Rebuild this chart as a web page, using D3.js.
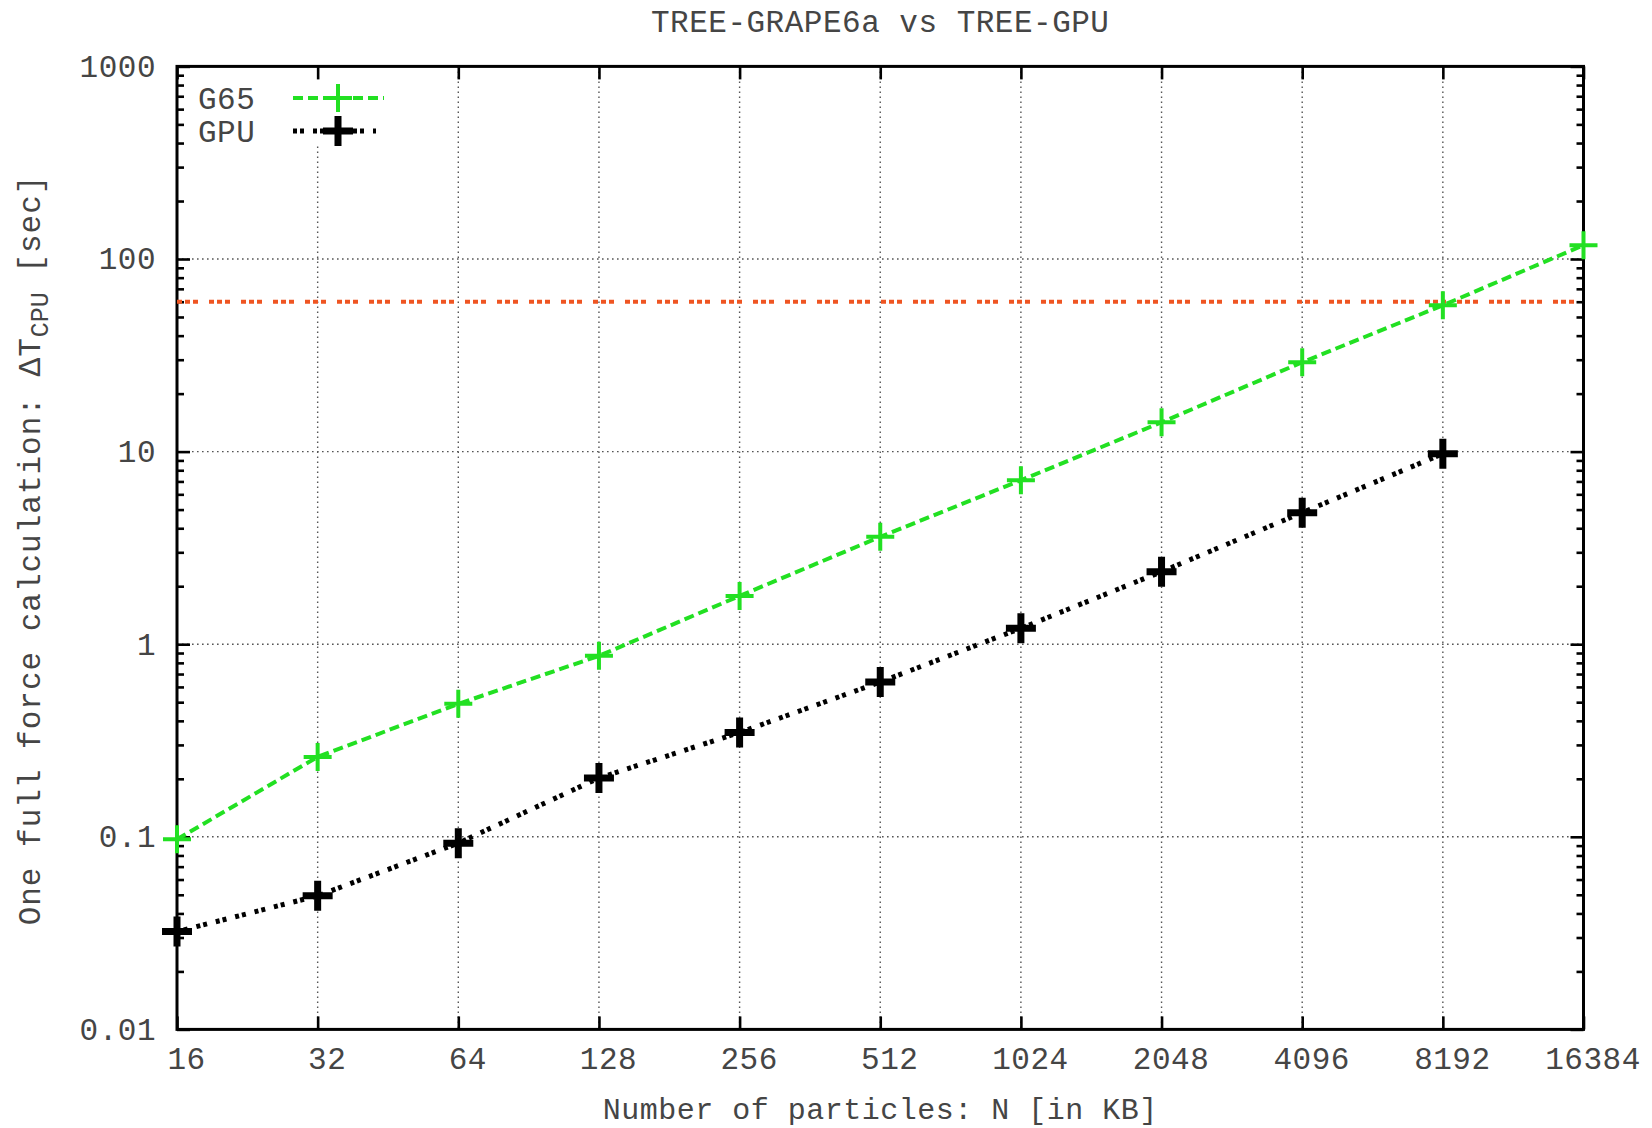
<!DOCTYPE html>
<html>
<head>
<meta charset="utf-8">
<script src="https://cdn.jsdelivr.net/npm/d3@7"></script>
<style>
  body { margin: 0; background: #fff; }
  text { font-family: "Liberation Mono", "Courier New", monospace; fill: #454545; letter-spacing: 0.5px; }
</style>
</head>
<body>
<svg id="chart" width="1652" height="1128"></svg>
<script>
// Particle counts (in KB) on the x axis
const particlesKB = [16, 32, 64, 128, 256, 512, 1024, 2048, 4096, 8192, 16384];
const xTickLabels = ["16", "32", "64", "128", "256", "512", "1024", "2048", "4096", "8192", "16384"];

// Time for one full force calculation [sec]
const g65Seconds = [0.097, 0.26, 0.49, 0.87, 1.78, 3.61, 7.1, 14.2, 29.1, 57.5, 118];
const gpuParticlesKB = [16, 32, 64, 128, 256, 512, 1024, 2048, 4096, 8192];
const gpuSeconds = [0.0322, 0.0494, 0.0927, 0.202, 0.348, 0.636, 1.21, 2.38, 4.82, 9.75];

// Horizontal reference level [sec]
const cpuLimitSeconds = 60;

const yMajorTicks = [0.01, 0.1, 1, 10, 100, 1000];
const yTickLabels = ["0.01", "0.1", "1", "10", "100", "1000"];
const seriesNames = ["G65", "GPU"];

const W = 1652, H = 1128;
const margin = { left: 177, right: 68.5, top: 66.4, bottom: 98.6 };
const x0 = margin.left, x1 = W - margin.right, y0 = margin.top, y1 = H - margin.bottom;

const svg = d3.select("#chart");
const x = d3.scaleLog().base(2).domain([16, 16384]).range([x0, x1]);
const y = d3.scaleLog().domain([0.01, 1000]).range([y1, y0]);

const yMinorTicks = [];
yMajorTicks.slice(0, -1).forEach(d => { for (let m = 2; m <= 9; m++) yMinorTicks.push(d * m); });

// Grid
const grid = svg.append("g").attr("stroke", "#555").attr("stroke-width", 1.4).attr("stroke-dasharray", "1.6,3.4");
grid.selectAll("line.vx").data(particlesKB.slice(1, -1)).join("line")
  .attr("x1", d => x(d)).attr("x2", d => x(d)).attr("y1", y0).attr("y2", y1);
grid.selectAll("line.hy").data(yMajorTicks.slice(1, -1)).join("line")
  .attr("x1", x0).attr("x2", x1).attr("y1", d => y(d)).attr("y2", d => y(d));

// Legend background
svg.append("rect").attr("x", x0 + 2).attr("y", y0 + 2).attr("width", 215).attr("height", 76).attr("fill", "#fff");

// Axes with inward ticks
const fmtX = d => xTickLabels[particlesKB.indexOf(d)];
const fmtY = d => yTickLabels[yMajorTicks.indexOf(d)];

function styleAxis(g) {
  g.select(".domain").remove();
  g.selectAll(".tick line").attr("stroke", "#000").attr("stroke-width", 2.6);
  g.selectAll(".tick text").style("font-size", "31px").attr("fill", "#454545");
}

svg.append("g").attr("transform", `translate(0,${y1})`)
  .call(d3.axisBottom(x).tickValues(particlesKB).tickFormat(fmtX).tickSize(-13).tickPadding(18))
  .call(styleAxis)
  .call(g => g.selectAll(".tick text").attr("dx", 9));
svg.append("g").attr("transform", `translate(0,${y0})`)
  .call(d3.axisTop(x).tickValues(particlesKB).tickFormat("").tickSize(-13))
  .call(styleAxis);
svg.append("g").attr("transform", `translate(${x0},0)`)
  .call(d3.axisLeft(y).tickValues(yMajorTicks).tickFormat(fmtY).tickSize(-13).tickPadding(21))
  .call(styleAxis);
svg.append("g").attr("transform", `translate(${x0},0)`)
  .call(d3.axisLeft(y).tickValues(yMinorTicks).tickFormat("").tickSize(-7))
  .call(styleAxis);
svg.append("g").attr("transform", `translate(${x1},0)`)
  .call(d3.axisRight(y).tickValues(yMajorTicks).tickFormat("").tickSize(-13))
  .call(styleAxis);
svg.append("g").attr("transform", `translate(${x1},0)`)
  .call(d3.axisRight(y).tickValues(yMinorTicks).tickFormat("").tickSize(-7))
  .call(styleAxis);

// Frame
svg.append("rect").attr("x", x0).attr("y", y0).attr("width", x1 - x0).attr("height", y1 - y0)
  .attr("fill", "none").attr("stroke", "#000").attr("stroke-width", 3);

// Reference level
svg.append("line")
  .attr("x1", x0).attr("x2", x1).attr("y1", y(cpuLimitSeconds)).attr("y2", y(cpuLimitSeconds))
  .attr("stroke", "#ef5522").attr("stroke-width", 3.8).attr("stroke-dasharray", "5,3,5,3,5,11");

// Series
const green = "#22e022";
const plusPath = s => `M${-s},0H${s}M0,${-s}V${s}`;

const g65 = particlesKB.map((n, i) => [n, g65Seconds[i]]);
const gpu = gpuParticlesKB.map((n, i) => [n, gpuSeconds[i]]);
const line = d3.line().x(d => x(d[0])).y(d => y(d[1]));

svg.append("path").datum(g65).attr("d", line).attr("fill", "none")
  .attr("stroke", green).attr("stroke-width", 4).attr("stroke-dasharray", "10,5");
svg.append("path").datum(gpu).attr("d", line).attr("fill", "none")
  .attr("stroke", "#000").attr("stroke-width", 5).attr("stroke-dasharray", "4,3,4,9");

svg.append("g").selectAll("path").data(g65).join("path")
  .attr("transform", d => `translate(${x(d[0])},${y(d[1])})`)
  .attr("d", plusPath(14)).attr("stroke", green).attr("stroke-width", 4);
svg.append("g").selectAll("path").data(gpu).join("path")
  .attr("transform", d => `translate(${x(d[0])},${y(d[1])})`)
  .attr("d", plusPath(15)).attr("stroke", "#000").attr("stroke-width", 7);

// Legend
const legend = svg.append("g");
const legendRows = [
  { name: seriesNames[0], cy: 98, color: green, width: 4, dash: "10,5", x2: 384, size: 14, mw: 4 },
  { name: seriesNames[1], cy: 131, color: "#000", width: 5, dash: "4,3,4,9", x2: 376, size: 15, mw: 7 }
];
legendRows.forEach(r => {
  legend.append("text").attr("x", 198).attr("y", r.cy).attr("dy", "0.35em")
    .style("font-size", "31px").text(r.name);
  legend.append("line").attr("x1", 293).attr("x2", r.x2).attr("y1", r.cy).attr("y2", r.cy)
    .attr("stroke", r.color).attr("stroke-width", r.width).attr("stroke-dasharray", r.dash);
  legend.append("path").attr("transform", `translate(338,${r.cy})`)
    .attr("d", plusPath(r.size)).attr("stroke", r.color).attr("stroke-width", r.mw);
});

// Titles
svg.append("text").attr("x", (x0 + x1) / 2).attr("y", 21).attr("dy", "0.35em")
  .attr("text-anchor", "middle").style("font-size", "31px").text("TREE-GRAPE6a vs TREE-GPU");
svg.append("text").attr("x", (x0 + x1) / 2).attr("y", 1108).attr("dy", "0.35em")
  .attr("text-anchor", "middle").style("font-size", "30px").text("Number of particles: N [in KB]");

const yTitle = svg.append("text")
  .attr("transform", "translate(29,550) rotate(-90)")
  .attr("text-anchor", "middle").attr("dy", "0.35em").style("font-size", "31px")
  .style("letter-spacing", "1px");
yTitle.append("tspan").text("One full force calculation: ΔT");
yTitle.append("tspan").attr("dy", 8).style("font-size", "25px").style("letter-spacing", "0px").text("CPU");
yTitle.append("tspan").attr("dy", -8).text(" [sec]");
</script>
</body>
</html>
